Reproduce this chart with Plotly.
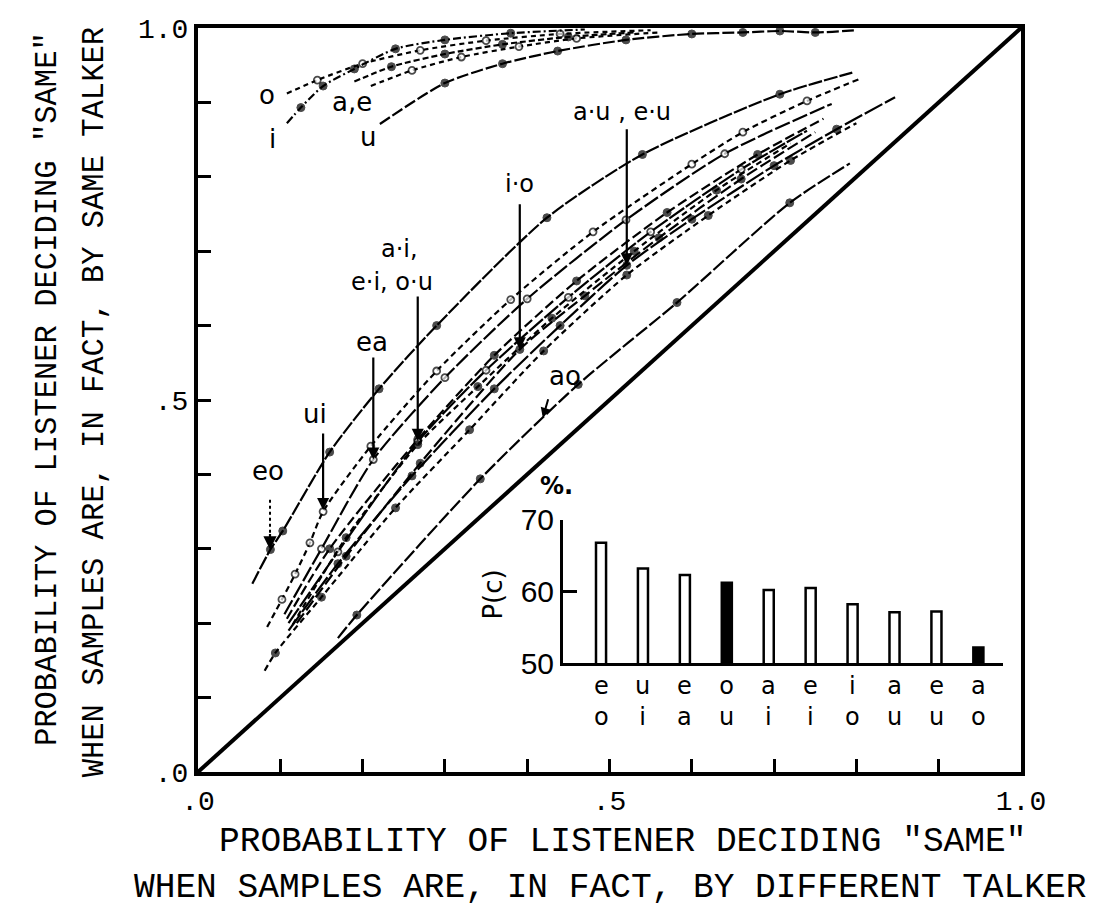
import plotly.graph_objects as go

# ---------------- ROC data: same-vowel pairs (upper bundle) ----------------
o_x = [0.108, 0.145, 0.200, 0.270, 0.350, 0.440, 0.550]
o_y = [0.912, 0.930, 0.952, 0.970, 0.983, 0.992, 0.997]
i_x = [0.108, 0.125, 0.152, 0.190, 0.240, 0.300, 0.380, 0.470]
i_y = [0.872, 0.893, 0.922, 0.945, 0.972, 0.984, 0.993, 0.998]
a_x = [0.190, 0.235, 0.300, 0.370, 0.450, 0.530]
a_y = [0.928, 0.948, 0.965, 0.978, 0.988, 0.994]
e_x = [0.210, 0.260, 0.320, 0.390, 0.460, 0.560]
e_y = [0.922, 0.943, 0.961, 0.975, 0.986, 0.994]
u_x = [0.221, 0.300, 0.370, 0.437, 0.520, 0.600, 0.662, 0.707, 0.750, 0.800]
u_y = [0.871, 0.926, 0.952, 0.969, 0.984, 0.992, 0.994, 0.996, 0.994, 0.997]

# ---------------- ROC data: different-vowel pairs (middle bundle) ----------------
eo_x = [0.066, 0.088, 0.103, 0.160, 0.220, 0.290, 0.424, 0.540, 0.707, 0.795]
eo_y = [0.253, 0.299, 0.324, 0.430, 0.515, 0.600, 0.745, 0.830, 0.911, 0.940]
ui_x = [0.084, 0.102, 0.118, 0.136, 0.152, 0.210, 0.290, 0.380, 0.480, 0.600, 0.662, 0.740, 0.805]
ui_y = [0.195, 0.232, 0.266, 0.308, 0.350, 0.438, 0.539, 0.635, 0.726, 0.817, 0.860, 0.902, 0.932]
ea_x = [0.105, 0.150, 0.213, 0.300, 0.400, 0.520, 0.640, 0.770]
ea_y = [0.212, 0.300, 0.420, 0.530, 0.636, 0.742, 0.831, 0.898]
ou_x = [0.108, 0.160, 0.267, 0.360, 0.460, 0.570, 0.680, 0.760]
ou_y = [0.206, 0.300, 0.447, 0.560, 0.660, 0.752, 0.830, 0.878]
ai_x = [0.110, 0.170, 0.267, 0.350, 0.450, 0.550, 0.660, 0.740]
ai_y = [0.200, 0.296, 0.444, 0.540, 0.638, 0.726, 0.810, 0.862]
ei_x = [0.115, 0.180, 0.267, 0.340, 0.430, 0.530, 0.630, 0.720]
ei_y = [0.198, 0.315, 0.440, 0.518, 0.610, 0.700, 0.782, 0.845]
io_x = [0.120, 0.180, 0.270, 0.391, 0.470, 0.560, 0.660, 0.750]
io_y = [0.200, 0.290, 0.415, 0.568, 0.640, 0.718, 0.797, 0.860]
au_x = [0.110, 0.170, 0.260, 0.360, 0.440, 0.521, 0.600, 0.700, 0.776, 0.847]
au_y = [0.190, 0.280, 0.398, 0.515, 0.600, 0.681, 0.743, 0.815, 0.864, 0.907]
eu_x = [0.081, 0.094, 0.150, 0.240, 0.330, 0.420, 0.521, 0.620, 0.720, 0.800]
eu_y = [0.136, 0.160, 0.235, 0.355, 0.460, 0.566, 0.668, 0.748, 0.822, 0.872]
ao_x = [0.170, 0.193, 0.343, 0.462, 0.582, 0.719, 0.792]
ao_y = [0.180, 0.211, 0.394, 0.521, 0.631, 0.765, 0.818]

# chance line
chance_x = [0.0, 1.0]
chance_y = [0.0, 1.0]

# ---------------- inset: percent correct per vowel pair ----------------
pair_first = ["e", "u", "e", "o", "a", "e", "i", "a", "e", "a"]
pair_second = ["o", "i", "a", "u", "i", "i", "o", "u", "u", "o"]
pc_values = [66.8, 63.2, 62.3, 61.2, 60.2, 60.5, 58.2, 57.1, 57.2, 52.2]

# axis tick labels
main_ticks = [0.0, 0.1, 0.2, 0.3, 0.4, 0.5, 0.6, 0.7, 0.8, 0.9, 1.0]
main_ticktext = [".0", "", "", "", "", ".5", "", "", "", "", "1.0"]
inset_ticks = [50, 60, 70]

MONO = "Liberation Mono"
SANS = "DejaVu Sans"

fig = go.Figure()

# chance diagonal
fig.add_trace(go.Scatter(x=chance_x, y=chance_y, mode="lines",
                         line=dict(color="black", width=4), hoverinfo="skip"))

# (x, y, dash pattern, open markers?)
curves = [
    (o_x, o_y, "5px,4px", True),
    (i_x, i_y, "8px,3px,2px,3px", False),
    (a_x, a_y, "6px,3px", False),
    (e_x, e_y, "5px,4px", True),
    (u_x, u_y, "12px,3px", False),
    (eo_x, eo_y, "14px,2px", False),
    (ui_x, ui_y, "6px,4px", True),
    (ea_x, ea_y, "16px,3px", True),
    (ou_x, ou_y, "10px,4px", False),
    (ai_x, ai_y, "18px,2px", True),
    (ei_x, ei_y, "6px,4px", False),
    (io_x, io_y, "12px,4px", False),
    (au_x, au_y, "20px,3px", False),
    (eu_x, eu_y, "6px,4px", False),
    (ao_x, ao_y, "14px,3px", False),
]

for xs, ys, dash, is_open in curves:
    n = len(xs)
    sizes = [0] + [7 if is_open else 8] * (n - 2) + [0]
    if is_open:
        mk = dict(size=sizes, color="white", line=dict(color="black", width=1.8))
    else:
        mk = dict(size=sizes, color="black", line=dict(color="black", width=1))
    fig.add_trace(go.Scatter(
        x=xs, y=ys, mode="lines+markers",
        line=dict(color="black", width=2.2, dash=dash, shape="spline", smoothing=0.7),
        marker=mk, cliponaxis=False, hoverinfo="skip"))

# inset bars
bar_fill = ["white"] * len(pc_values)
bar_fill[3] = "black"
bar_fill[9] = "black"
fig.add_trace(go.Bar(
    x=list(range(len(pc_values))), y=pc_values, xaxis="x2", yaxis="y2",
    width=0.24, marker=dict(color=bar_fill, line=dict(color="black", width=2.5)),
    hoverinfo="skip"))

annotations = []


def text_note(text, x, y, xref, yref, size, family, angle=0, bold=False):
    annotations.append(dict(text=f"<b>{text}</b>" if bold else text, x=x, y=y,
                            xref=xref, yref=yref, showarrow=False, textangle=angle,
                            xanchor="center", yanchor="middle",
                            font=dict(family=family, size=size, color="black")))


def label(text, x, y, size=26):
    text_note(text, x, y, "x", "y", size, SANS)


label("o", 0.084, 0.910)
label("i", 0.090, 0.851)
label("a,e", 0.187, 0.900)
label("u", 0.207, 0.854)
label("a·u , e·u", 0.515, 0.887, size=24)
label("i·o", 0.391, 0.791, size=24)
label("a·i,", 0.245, 0.703, size=24)
label("e·i, o·u", 0.236, 0.658, size=24)
label("ea", 0.211, 0.578)
label("ui", 0.142, 0.481)
label("eo", 0.085, 0.404)
label("ao", 0.446, 0.532)

# pointer arrows: (tip x, tip y, tail y)
pointers = [
    (0.152, 0.352, 0.457),
    (0.213, 0.420, 0.559),
    (0.267, 0.445, 0.641),
    (0.391, 0.568, 0.765),
    (0.521, 0.681, 0.866),
]
for tx, ty, tail in pointers:
    annotations.append(dict(text="", x=tx, y=ty, ax=tx, ay=tail, xref="x", yref="y",
                            axref="x", ayref="y", showarrow=True, arrowhead=2,
                            arrowsize=1.1, arrowwidth=2.2, arrowcolor="black"))

# dotted pointer for eo
fig.add_shape(type="line", x0=0.0875, x1=0.0875, y0=0.366, y1=0.315, xref="x", yref="y",
              line=dict(color="black", width=2, dash="dot"))
annotations.append(dict(text="", x=0.0875, y=0.299, ax=0.0875, ay=0.322, xref="x", yref="y",
                        axref="x", ayref="y", showarrow=True, arrowhead=2, arrowsize=1.2,
                        arrowwidth=2.2, arrowcolor="black"))
# small pointer under "ao"
annotations.append(dict(text="", x=0.419, y=0.476, ax=0.426, ay=0.503, xref="x", yref="y",
                        axref="x", ayref="y", showarrow=True, arrowhead=2, arrowsize=1.0,
                        arrowwidth=2, arrowcolor="black"))

# inset pair labels: one stacked two-letter label under each bar
for k, (top, bot) in enumerate(zip(pair_first, pair_second)):
    text_note(f"{top}<br>{bot}", k, 0.0944, "x2", "paper", 24, SANS)

text_note("P(c)", 0.358, 0.238, "paper", "paper", 26, SANS, angle=-90)
text_note("%.", 0.435, 0.385, "paper", "paper", 24, SANS, bold=True)

# axis titles
text_note("PROBABILITY OF LISTENER DECIDING ″SAME″", 0.516, -0.094, "paper", "paper", 34.5, MONO)
text_note("WHEN SAMPLES ARE, IN FACT, BY DIFFERENT TALKER", 0.5, -0.155, "paper", "paper", 34.5, MONO)
text_note("PROBABILITY OF LISTENER DECIDING ″SAME″", -0.182, 0.515, "paper", "paper", 30.5, MONO, angle=-90)
text_note("WHEN SAMPLES ARE, IN FACT, BY SAME TALKER", -0.125, 0.497, "paper", "paper", 30.5, MONO, angle=-90)

axis_common = dict(range=[0, 1], showgrid=False, zeroline=False, showline=True, mirror=True,
                   linecolor="black", linewidth=4, ticks="inside", ticklen=13, tickwidth=2.5,
                   tickcolor="black", tickvals=main_ticks, ticktext=main_ticktext,
                   tickfont=dict(family=MONO, size=28, color="black"))

fig.update_layout(
    width=1098, height=909,
    margin=dict(l=198, r=77, t=20, b=137),
    paper_bgcolor="white", plot_bgcolor="white",
    showlegend=False,
    xaxis=dict(**axis_common, domain=[0, 1]),
    yaxis=dict(**axis_common, domain=[0, 1]),
    xaxis2=dict(domain=[0.4435, 0.978], anchor="y2", range=[-0.907, 9.585],
                showgrid=False, zeroline=False, showline=True, linecolor="black",
                linewidth=3, showticklabels=False, ticks=""),
    yaxis2=dict(domain=[0.1463, 0.339], anchor="x2", range=[50, 70],
                showgrid=False, zeroline=False, showline=True, linecolor="black",
                linewidth=3, ticks="inside", ticklen=14, tickwidth=3, tickcolor="black",
                tickvals=inset_ticks,
                tickfont=dict(family="Liberation Sans", size=30, color="black")),
    annotations=annotations,
)

fig.write_html("out.html")
